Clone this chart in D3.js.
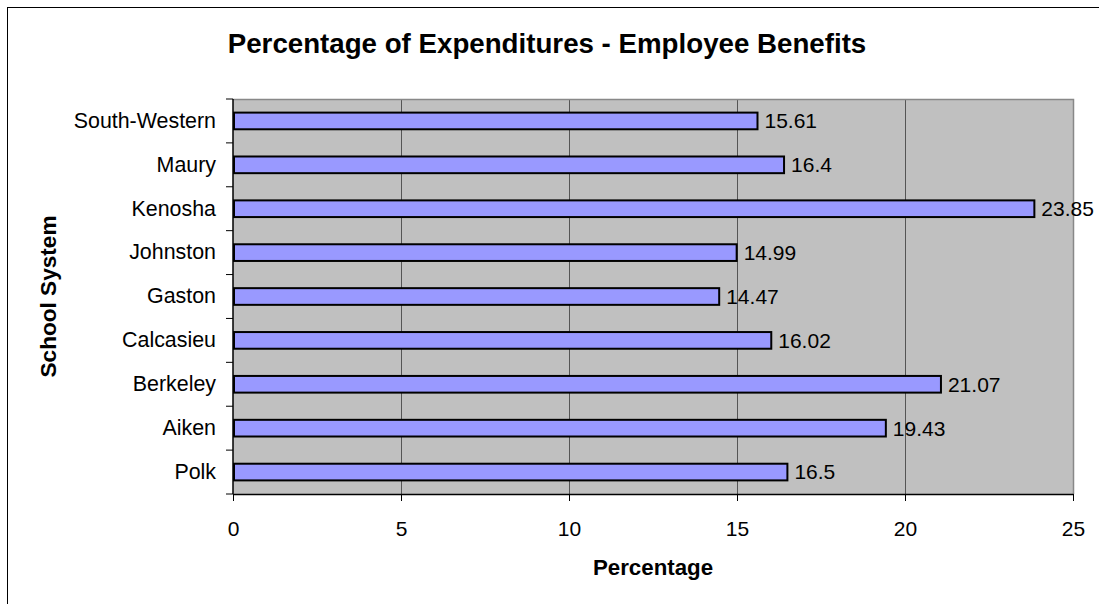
<!DOCTYPE html>
<html>
<head>
<meta charset="utf-8">
<script src="https://cdn.jsdelivr.net/npm/d3@7"></script>
<style>
  html, body { margin: 0; padding: 0; background: #ffffff; }
  svg { display: block; font-family: "Liberation Sans", Arial, sans-serif; }
</style>
</head>
<body>
<svg id="chart" width="1099" height="604"></svg>
<script>
// School systems, listed bottom to top as in the source worksheet
const categories = ["Polk", "Aiken", "Berkeley", "Calcasieu", "Gaston", "Johnston", "Kenosha", "Maury", "South-Western"];
// Employee benefits as a percentage of expenditures
const values = [16.5, 19.43, 21.07, 16.02, 14.47, 14.99, 23.85, 16.4, 15.61];
const xTicks = [0, 5, 10, 15, 20, 25];

const titleText = "Percentage of Expenditures - Employee Benefits";
const xTitle = "Percentage";
const yTitle = "School System";

const svg = d3.select("#chart");
const W = 1099, H = 604;
const plot = { left: 233, right: 1073, top: 99, bottom: 494 };

// chart frame
svg.append("rect")
  .attr("x", 7.5).attr("y", 7.5)
  .attr("width", W + 20).attr("height", H + 20)
  .attr("fill", "#ffffff").attr("stroke", "#000000").attr("stroke-width", 1);

const x = d3.scaleLinear().domain([0, 25]).range([plot.left, plot.right]);
const y = d3.scaleBand()
  .domain(categories.slice().reverse())
  .range([plot.top, plot.bottom])
  .paddingInner(0.62).paddingOuter(0.31);

// plot area background
svg.append("rect")
  .attr("x", plot.left).attr("y", plot.top)
  .attr("width", plot.right - plot.left).attr("height", plot.bottom - plot.top)
  .attr("fill", "#c0c0c0");

// vertical gridlines
svg.append("g").selectAll("line")
  .data(xTicks.filter(t => t > 0 && t < 25))
  .join("line")
  .attr("x1", d => Math.round(x(d)) + 0.5).attr("x2", d => Math.round(x(d)) + 0.5)
  .attr("y1", plot.top).attr("y2", plot.bottom)
  .attr("stroke", "#555555").attr("stroke-width", 1);

// plot area border (top and right)
svg.append("path")
  .attr("d", `M${plot.left},${plot.top + 0.5}H${plot.right + 0.5}V${plot.bottom}`)
  .attr("fill", "none").attr("stroke", "#888888").attr("stroke-width", 1.5);

// bars
const rows = categories.map((c, i) => ({ name: c, value: values[i] }));
svg.append("g").selectAll("rect")
  .data(rows)
  .join("rect")
  .attr("x", x(0) + 1)
  .attr("y", d => y(d.name))
  .attr("width", d => x(d.value) - x(0) - 1)
  .attr("height", y.bandwidth())
  .attr("fill", "#9999ff")
  .attr("stroke", "#000000")
  .attr("stroke-width", 2);

// value labels
svg.append("g").selectAll("text")
  .data(rows)
  .join("text")
  .attr("x", d => x(d.value) + 7)
  .attr("y", d => y(d.name) + y.bandwidth() / 2)
  .attr("dy", "0.35em")
  .attr("font-size", 21)
  .attr("fill", "#000000")
  .text(d => d.value);

// x axis
const xAxis = svg.append("g")
  .attr("transform", `translate(0,${plot.bottom})`)
  .call(d3.axisBottom(x).tickValues(xTicks).tickSize(7).tickPadding(20).tickSizeOuter(0));
xAxis.select(".domain").attr("stroke", "#000000").attr("stroke-width", 1.5);
xAxis.selectAll(".tick line").attr("stroke", "#000000");
xAxis.selectAll(".tick text")
  .attr("font-size", 21).attr("font-family", "Liberation Sans, Arial, sans-serif").attr("fill", "#000000");

// y axis: ticks sit between categories
const yAxis = svg.append("g")
  .attr("transform", `translate(${plot.left},0)`)
  .call(d3.axisLeft(y).tickSize(0).tickPadding(17));
yAxis.select(".domain").remove();
yAxis.selectAll(".tick text")
  .attr("font-size", 21.4).attr("font-family", "Liberation Sans, Arial, sans-serif").attr("fill", "#000000");

const step = (plot.bottom - plot.top) / categories.length;
svg.append("line")
  .attr("x1", plot.left).attr("x2", plot.left)
  .attr("y1", plot.top).attr("y2", plot.bottom)
  .attr("stroke", "#000000").attr("stroke-width", 1.5);
svg.append("g").selectAll("line")
  .data(d3.range(categories.length + 1))
  .join("line")
  .attr("x1", plot.left - 7).attr("x2", plot.left)
  .attr("y1", i => plot.top + i * step).attr("y2", i => plot.top + i * step)
  .attr("stroke", "#000000").attr("stroke-width", 1);

// titles
svg.append("text")
  .attr("x", 547).attr("y", 53)
  .attr("text-anchor", "middle")
  .attr("font-size", 27.7).attr("font-weight", "bold")
  .text(titleText);

svg.append("text")
  .attr("x", (plot.left + plot.right) / 2).attr("y", 575)
  .attr("text-anchor", "middle")
  .attr("font-size", 22.3).attr("font-weight", "bold")
  .text(xTitle);

svg.append("text")
  .attr("transform", `translate(56,${(plot.top + plot.bottom) / 2}) rotate(-90)`)
  .attr("text-anchor", "middle")
  .attr("font-size", 22.6).attr("font-weight", "bold")
  .text(yTitle);
</script>
</body>
</html>
